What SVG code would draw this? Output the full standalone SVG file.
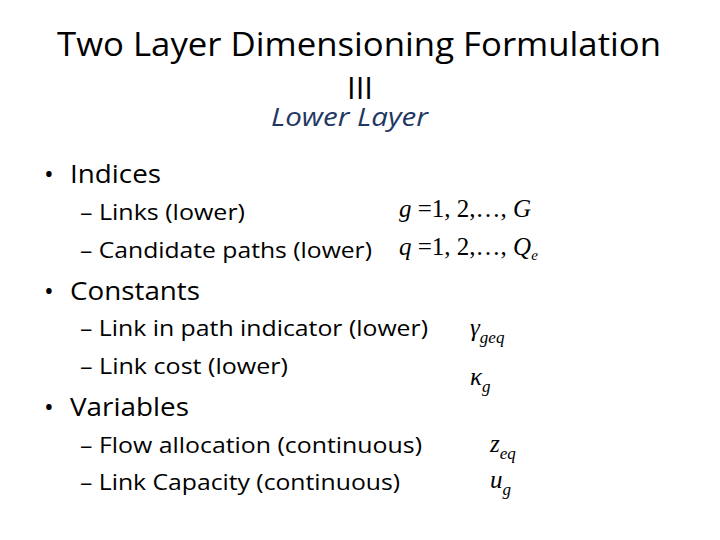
<svg xmlns="http://www.w3.org/2000/svg" width="720" height="540" viewBox="0 0 720 540">
<style>
.t{font-family:"Open Sans","Liberation Sans",sans-serif;fill:#000}
.m{font-family:"Liberation Serif",serif;font-style:italic;fill:#000}
.r{font-family:"Liberation Serif",serif;fill:#000;font-style:normal}
</style>
<rect width="720" height="540" fill="#fff"/>
<text class="t" x="57" y="56" font-size="33" textLength="604" lengthAdjust="spacingAndGlyphs">Two Layer Dimensioning Formulation</text>
<text class="t" x="360" y="99" font-size="31" text-anchor="middle">III</text>
<text class="t" x="271" y="126" font-size="25" font-style="italic" textLength="157" lengthAdjust="spacingAndGlyphs" style="fill:#1f3864">Lower Layer</text>
<g font-size="26">
<text class="t" x="44" y="183"><tspan>•</tspan><tspan x="70" textLength="91" lengthAdjust="spacingAndGlyphs">Indices</tspan></text>
<text class="t" x="44" y="300"><tspan>•</tspan><tspan x="70" textLength="130" lengthAdjust="spacingAndGlyphs">Constants</tspan></text>
<text class="t" x="44" y="416"><tspan>•</tspan><tspan x="70" textLength="119" lengthAdjust="spacingAndGlyphs">Variables</tspan></text>
</g>
<g font-size="22">
<text class="t" x="80" y="220" textLength="165" lengthAdjust="spacingAndGlyphs">– Links (lower)</text>
<text class="t" x="80" y="258" textLength="292" lengthAdjust="spacingAndGlyphs">– Candidate paths (lower)</text>
<text class="t" x="80" y="336" textLength="348" lengthAdjust="spacingAndGlyphs">– Link in path indicator (lower)</text>
<text class="t" x="80" y="374" textLength="208" lengthAdjust="spacingAndGlyphs">– Link cost (lower)</text>
<text class="t" x="80" y="453" textLength="342" lengthAdjust="spacingAndGlyphs">– Flow allocation (continuous)</text>
<text class="t" x="80" y="490" textLength="320" lengthAdjust="spacingAndGlyphs">– Link Capacity (continuous)</text>
</g>
<g font-size="25">
<text class="m" x="399" y="217">g<tspan class="r"> =1, 2,…, </tspan>G</text>
<text class="m" x="399" y="255">q<tspan class="r"> =1, 2,…, </tspan>Q<tspan font-size="15" dy="5">e</tspan></text>
<text class="m" x="470" y="336">γ<tspan font-size="17" dy="7">geq</tspan></text>
<text class="m" x="470" y="385">κ<tspan font-size="17" dy="7">g</tspan></text>
<text class="m" x="490" y="452">z<tspan font-size="17" dy="7">eq</tspan></text>
<text class="m" x="490" y="488">u<tspan font-size="17" dy="7">g</tspan></text>
</g>
</svg>
